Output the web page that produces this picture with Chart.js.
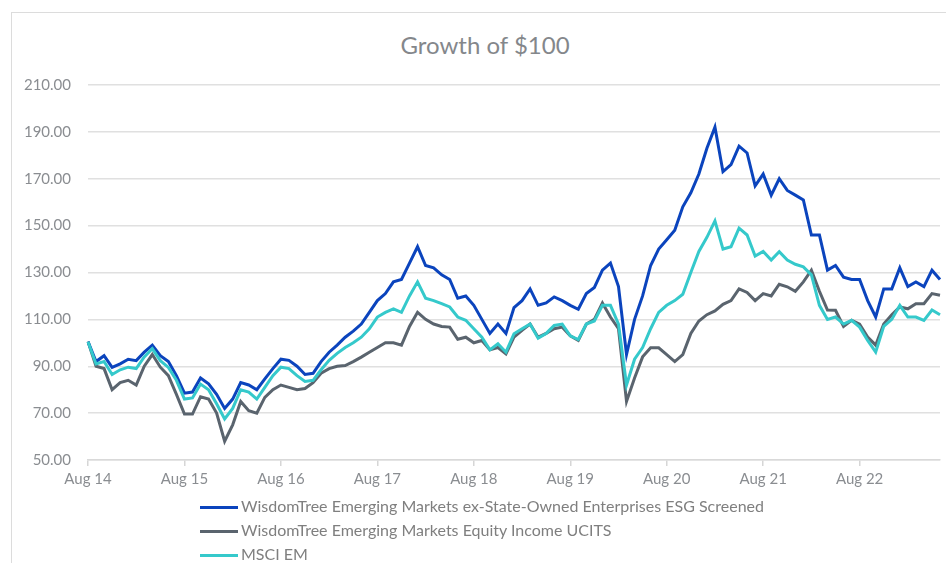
<!DOCTYPE html>
<html>
<head>
<meta charset="utf-8">
<script src="https://cdn.jsdelivr.net/npm/chart.js@4.4.1/dist/chart.umd.min.js"></script>
<style>
  html, body { margin: 0; padding: 0; background: #fff; }
  body { width: 946px; height: 563px; overflow: hidden; position: relative; font-family: Lato, 'Open Sans', sans-serif; }
  #frame { position: absolute; left: 11px; top: 12px; width: 960px; height: 580px; border: 1.5px solid #dcdcdc; box-sizing: border-box; }
  #wrap { position: absolute; left: 0; top: 0; width: 946px; height: 563px; }
  #title { position: absolute; top: 30px; left: 0; width: 970px; text-align: center; font-size: 24px; color: #84878b; }
  #legend { position: absolute; left: 200px; top: 495px; font-size: 16px; color: #7f7f7f; }
  #legend div { height: 24px; line-height: 22px; white-space: nowrap; }
  #legend span { display: inline-block; width: 38px; height: 3px; vertical-align: middle; margin-right: 3px; }
</style>
</head>
<body>
<div id="frame"></div>
<div id="title">Growth of $100</div>
<div id="wrap"><canvas id="c" width="946" height="563"></canvas></div>
<div id="legend"></div>
<script>
// monthly points, Aug 2014 .. Jun 2023
const startYear = 2014, startMonth = 7; // August
const monthNames = ['Jan','Feb','Mar','Apr','May','Jun','Jul','Aug','Sep','Oct','Nov','Dec'];
const yTicks = [50, 70, 90, 110, 130, 150, 170, 190, 210];

const esgScreened = [
  100.5, 92, 94.5, 89.5, 91, 93, 92.4, 96, 99, 94.5, 92, 86,
  78.5, 79, 85, 82.5, 78, 72, 76, 83, 82, 80, 84.6, 89,
  93, 92.5, 90, 86.5, 87, 92, 96, 99, 102.4, 105, 108, 113,
  118, 121, 126, 127, 134, 141, 133, 132, 129, 127, 119, 120,
  116, 110, 104, 108, 104, 115, 118, 123, 116, 117, 119.6, 118,
  116, 114.3, 121, 123.6, 131, 134, 124, 95, 110, 120, 133, 140,
  144, 148, 158, 164, 172, 183, 192, 173, 176, 183.9, 181, 167,
  172, 163, 170, 165, 163, 161, 146, 146, 131, 133, 128, 127,
  127, 118, 111, 123, 123, 132, 124, 126, 124, 131, 127
];
const equityIncome = [
  100.5, 90, 89, 80, 83, 84, 82, 90, 95, 89.6, 86, 78,
  69.6, 69.6, 77, 76, 70, 58, 65, 75, 71, 70, 76.7, 80,
  82, 81, 80, 80.5, 83, 87, 89, 90, 90.3, 92, 93.9, 96,
  98, 100, 100, 99, 107, 113, 110, 108, 107, 106.7, 101.5, 102.4,
  100, 101, 97, 98, 95.3, 102.4, 105.3, 108, 102.4, 104, 106, 106.7,
  103, 101, 108, 110, 117, 111, 106, 75, 85, 94, 97.9, 97.9,
  95, 92, 95, 104, 109.3, 112, 113.6, 116.4, 118, 123, 121.5, 118,
  121, 120, 125, 123.9, 122, 126, 131, 122, 114, 113.9, 107, 109.6,
  108, 102.5, 99, 108, 112, 115.3, 114.5, 116.7, 116.7, 121, 120.3
];
const msciEM = [
  100.5, 91, 92, 86.5, 88.5, 89.6, 89, 94, 97.5, 92.4, 89.5, 84,
  76, 76.5, 82.4, 80, 74, 67.5, 72, 80, 79, 76, 81, 86,
  89.6, 89, 86, 83.5, 84, 88.5, 92.5, 95.5, 98, 100, 102.4, 106,
  111, 113, 114.5, 113, 120, 126, 119, 118, 116.7, 115.3, 111, 109.6,
  106, 102.4, 97, 99.6, 96, 103.9, 106, 108, 102, 104, 107.4, 108,
  103, 101.4, 108, 109.3, 116, 116, 108, 82, 93, 98, 106, 113,
  116, 118, 120.7, 130, 139, 145, 152, 140, 141, 148.9, 146, 137,
  139, 135.3, 138.9, 135.3, 133.5, 132.4, 129, 116, 110, 111, 108, 109.6,
  106.7, 101, 96, 107, 110, 116, 111, 111, 109.6, 114, 112
];

const seriesNames = [
  'WisdomTree Emerging Markets ex-State-Owned Enterprises ESG Screened',
  'WisdomTree Emerging Markets Equity Income UCITS',
  'MSCI EM'
];
const seriesColors = ['#0b44bd', '#5a646e', '#35c9cb'];

const labels = esgScreened.map((_, i) => {
  const m = (startMonth + i) % 12;
  const y = startYear + Math.floor((startMonth + i) / 12);
  return monthNames[m] + ' ' + String(y).slice(2);
});

const isTick = i => labels[i] && labels[i].startsWith('Aug');

const ctx = document.getElementById('c');
new Chart(ctx, {
  type: 'line',
  data: {
    labels,
    datasets: [esgScreened, equityIncome, msciEM].map((d, i) => ({
      label: seriesNames[i],
      data: d,
      borderColor: seriesColors[i],
      backgroundColor: seriesColors[i],
      borderWidth: 3,
      pointRadius: 0,
      tension: 0,
      order: [1, 2, 0][i]
    }))
  },
  options: {
    responsive: false,
    animation: false,
    layout: { padding: { top: 85, right: 6, bottom: 73, left: 0 } },
    plugins: { legend: { display: false }, tooltip: { enabled: false } },
    scales: {
      x: {
        type: 'category',
        offset: false,
        afterFit: s => { s.height = 30; },
        grid: {
          drawOnChartArea: false, drawTicks: true, tickLength: 6,
          color: '#d6d6d6', lineWidth: 1.5
        },
        border: { color: '#d9d9d9', width: 1.5 },
        ticks: {
          autoSkip: false, maxRotation: 0, padding: 4,
          color: '#8a8d91', font: { family: 'Lato', size: 15 },
          callback: (v, i) => isTick(i) ? labels[i] : null
        }
      },
      y: {
        min: 50, max: 210,
        afterFit: s => { s.width = 88; },
        afterBuildTicks: s => { s.ticks = yTicks.map(v => ({ value: v })); },
        grid: { drawTicks: false, color: '#e0e0e0', lineWidth: 1.5 },
        border: { display: false },
        ticks: {
          padding: 17, color: '#8a8d91', font: { family: 'Lato', size: 15 },
          callback: v => v.toFixed(2)
        }
      }
    }
  }
});

document.getElementById('legend').innerHTML = seriesNames.map((n, i) =>
  '<div><span style="background:' + seriesColors[i] + '"></span>' + n + '</div>').join('');
</script>
</body>
</html>
